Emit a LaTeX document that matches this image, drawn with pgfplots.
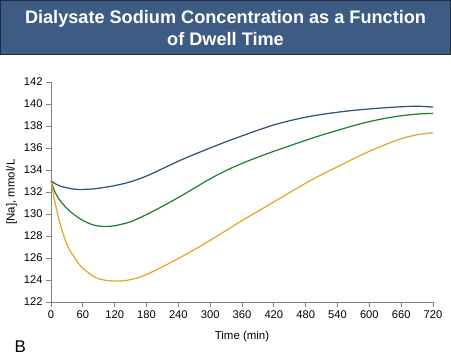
\documentclass[border=0pt]{standalone}
\usepackage{fontspec}
\setmainfont{Liberation Sans}
\usepackage{pgfplots}
\pgfplotsset{compat=1.18}
\definecolor{banner}{RGB}{61,91,131}
\definecolor{bannerdark}{RGB}{30,45,65}
\definecolor{cblue}{RGB}{52,82,125}
\definecolor{cgreen}{RGB}{36,128,52}
\definecolor{corange}{RGB}{228,168,42}
\definecolor{axgray}{RGB}{130,130,130}
\begin{document}
\begin{tikzpicture}[x=1bp,y=1bp]
\path[use as bounding box] (0,0) rectangle (451,356);
\fill[banner, draw=bannerdark, line width=0.8bp] (0.4,302) rectangle (450.6,355.6);
\node[white, font=\fontsize{18.2}{23}\selectfont\bfseries, align=center] at (225.5,328) {Dialysate Sodium Concentration as a Function\\of Dwell Time};
\begin{axis}[
  at={(51bp,54bp)}, anchor=south west, scale only axis,
  width=382bp, height=220bp,
  xmin=0, xmax=720, ymin=122, ymax=142,
  xtick={0,60,...,720}, ytick={122,124,...,142},
  axis x line*=bottom, axis y line*=left,
  axis line style={axgray, line width=0.8bp, -},
  tick align=outside, major tick length=5bp,
  tick style={axgray, line width=0.8bp},
  tick label style={font=\fontsize{11.2}{13}\selectfont},
  /pgf/number format/assume math mode=true,
  xlabel={Time (min)}, ylabel={[Na], mmol/L},
  label style={font=\fontsize{11.5}{13}\selectfont},
  xlabel style={at={(axis description cs:0.5,-0.158)}, anchor=center},
  ylabel style={at={(axis description cs:-0.103,0.5)}, anchor=center},
  clip=false,
]
\addplot[cblue, line width=1.25bp, smooth] coordinates {
(0,133) (10,132.7) (20,132.5) (45,132.25) (70,132.25) (90,132.34) (120,132.58)
(150,132.93) (180,133.45) (210,134.12) (240,134.8) (270,135.42) (300,136.0)
(330,136.57) (360,137.1) (390,137.62) (420,138.1) (450,138.48) (480,138.8)
(510,139.05) (540,139.25) (570,139.42) (600,139.55) (630,139.66) (660,139.75)
(690,139.8) (720,139.72)};
\addplot[cgreen, line width=1.25bp, smooth] coordinates {
(0,133) (5,132.3) (13,131.5) (32,130.4) (57,129.5) (80,129.0) (98,128.87)
(120,128.93) (150,129.3) (180,129.95) (210,130.7) (240,131.5) (270,132.35)
(300,133.2) (330,133.95) (360,134.6) (390,135.17) (420,135.7) (450,136.2)
(480,136.7) (510,137.17) (540,137.6) (570,138.03) (600,138.4) (630,138.7)
(660,138.93) (690,139.08) (720,139.15)};
\addplot[corange, line width=1.25bp, smooth] coordinates {
(0,133) (3,132.2) (7,131.2) (13,129.9) (19.5,128.7) (32,127.0) (45,126.0)
(57,125.2) (82,124.27) (100,124.0) (120,123.9) (140,123.95) (160,124.15)
(180,124.5) (210,125.2) (240,125.95) (270,126.75) (300,127.6) (330,128.5)
(360,129.4) (390,130.25) (420,131.1) (450,131.95) (480,132.8) (510,133.58)
(540,134.3) (570,135.02) (600,135.7) (630,136.3) (660,136.85) (690,137.2)
(720,137.4)};
\end{axis}
\node[anchor=base west, font=\fontsize{17}{20}\selectfont] at (11,4) {B};
\end{tikzpicture}
\end{document}
